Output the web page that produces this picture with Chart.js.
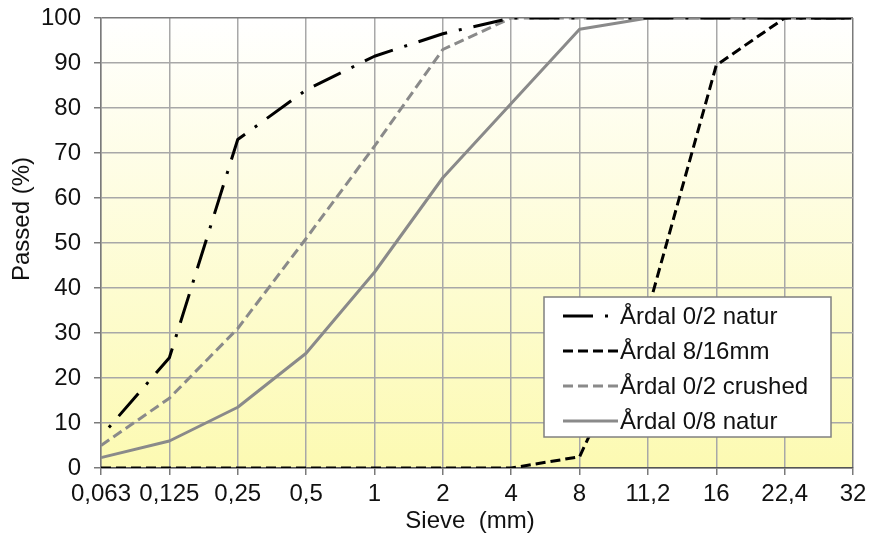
<!DOCTYPE html>
<html>
<head>
<meta charset="utf-8">
<script src="https://cdn.jsdelivr.net/npm/chart.js@4/dist/chart.umd.min.js"></script>
<style>
  html, body { margin: 0; padding: 0; background: #ffffff; }
  #wrap { width: 869px; height: 538px; }
</style>
</head>
<body>
<div id="wrap"><canvas id="c" width="869" height="538"></canvas></div>
<script>
// Sieve sizes (mm) and passing percentages
const sieves = ['0,063', '0,125', '0,25', '0,5', '1', '2', '4', '8', '11,2', '16', '22,4', '32'];
const natur02   = [7, 24.5, 73, 84, 91.5, 96.5, 100, 100, 100, 100, 100, 100];
const mm816     = [0, 0, 0, 0, 0, 0, 0, 2.5, 35, 89.5, 100, 100];
const crushed02 = [5, 15.5, 31, 51, 71.5, 93, 100, 100, 100, 100, 100, 100];
const natur08   = [2.3, 6, 13.5, 25.5, 43.5, 64.5, 81, 97.5, 100, 100, 100, 100];
const yTicks    = [0, 10, 20, 30, 40, 50, 60, 70, 80, 90, 100];

const FONT = '"Liberation Sans", Arial, sans-serif';
const FSIZE = 24;
const TEXT = '#111111';
const GRID = '#a8a8a8';
const FRAME = '#7a7a7a';

const series = [
  { label: 'Årdal 0/2 natur',    data: natur02,   color: '#000000', dash: [30, 12, 3, 12], offset: 30 },
  { label: 'Årdal 8/16mm',       data: mm816,     color: '#000000', dash: [10, 5],         offset: 0 },
  { label: 'Årdal 0/2 crushed',  data: crushed02, color: '#8a8a8a', dash: [10, 5],         offset: 0 },
  { label: 'Årdal 0/8 natur',    data: natur08,   color: '#8a8a8a', dash: [],              offset: 0 }
];

// Plot background: white fading into pale yellow toward the axis
const backgroundPlugin = {
  id: 'plotBackground',
  beforeDraw(chart) {
    const { ctx, chartArea: a } = chart;
    const g = ctx.createLinearGradient(0, a.top, 0, a.bottom);
    g.addColorStop(0, '#ffffff');
    g.addColorStop(1, '#fcfab2');
    ctx.save();
    ctx.fillStyle = g;
    ctx.fillRect(a.left, a.top, a.right - a.left, a.bottom - a.top);
    ctx.restore();
  }
};

// Axis titles and boxed legend inside the plot
const overlayPlugin = {
  id: 'overlay',
  afterDraw(chart) {
    const { ctx } = chart;
    ctx.save();
    ctx.font = FSIZE + 'px ' + FONT;
    ctx.fillStyle = TEXT;
    ctx.textAlign = 'center';
    ctx.textBaseline = 'middle';
    ctx.fillText('Sieve  (mm)', 470, 521);
    ctx.translate(22, 219);
    ctx.rotate(-Math.PI / 2);
    ctx.fillText('Passed (%)', 0, 0);
    ctx.restore();

    // legend box
    const bx = 544, by = 297, bw = 287, bh = 140;
    ctx.save();
    ctx.fillStyle = '#ffffff';
    ctx.fillRect(bx, by, bw, bh);
    ctx.strokeStyle = '#808080';
    ctx.lineWidth = 1.5;
    ctx.strokeRect(bx, by, bw, bh);
    chart.data.datasets.forEach((ds, i) => {
      const y = 316 + i * 35;
      ctx.beginPath();
      ctx.setLineDash(ds.borderDash || []);
      ctx.lineDashOffset = 0;
      ctx.strokeStyle = ds.borderColor;
      ctx.lineWidth = ds.borderWidth;
      ctx.moveTo(563, y);
      ctx.lineTo(618, y);
      ctx.stroke();
      ctx.setLineDash([]);
      ctx.font = FSIZE + 'px ' + FONT;
      ctx.fillStyle = TEXT;
      ctx.textAlign = 'left';
      ctx.textBaseline = 'middle';
      ctx.fillText(ds.label, 620, y + 1);
    });
    ctx.restore();
  }
};

new Chart(document.getElementById('c'), {
  type: 'line',
  data: {
    labels: sieves,
    datasets: series.map(s => ({
      label: s.label,
      data: s.data,
      borderColor: s.color,
      backgroundColor: s.color,
      borderWidth: 3,
      borderDash: s.dash,
      borderDashOffset: s.offset,
      borderCapStyle: 'butt',
      borderJoinStyle: 'round',
      pointRadius: 0,
      tension: 0,
      fill: false
    }))
  },
  options: {
    responsive: false,
    animation: false,
    devicePixelRatio: 1,
    layout: { padding: { top: 18, right: 16, left: 0, bottom: 0 } },
    plugins: {
      legend: { display: false },
      tooltip: { enabled: false }
    },
    scales: {
      x: {
        type: 'category',
        offset: false,
        afterFit(scale) {
          scale.height = 70;
          scale.paddingLeft = 0;
          scale.paddingRight = 0;
        },
        grid: {
          color: (c) => (c.index === sieves.length - 1 ? FRAME : GRID),
          lineWidth: 1.5,
          tickLength: 7,
          tickColor: FRAME
        },
        border: { color: '#555555', width: 1.5 },
        ticks: {
          font: { family: FONT, size: FSIZE },
          color: TEXT,
          padding: 5,
          maxRotation: 0,
          autoSkip: false
        }
      },
      y: {
        min: 0,
        max: 100,
        afterFit(scale) {
          scale.width = 101;
          scale.paddingTop = 0;
          scale.paddingBottom = 0;
        },
        afterBuildTicks(scale) { scale.ticks = yTicks.map(v => ({ value: v })); },
        grid: {
          color: (c) => (c.tick && c.tick.value === 100 ? FRAME : GRID),
          lineWidth: 1.5,
          tickLength: 7,
          tickColor: FRAME
        },
        border: { color: FRAME, width: 1.5 },
        ticks: {
          font: { family: FONT, size: FSIZE },
          color: TEXT,
          padding: 13
        }
      }
    }
  },
  plugins: [backgroundPlugin, overlayPlugin]
});
</script>
</body>
</html>
